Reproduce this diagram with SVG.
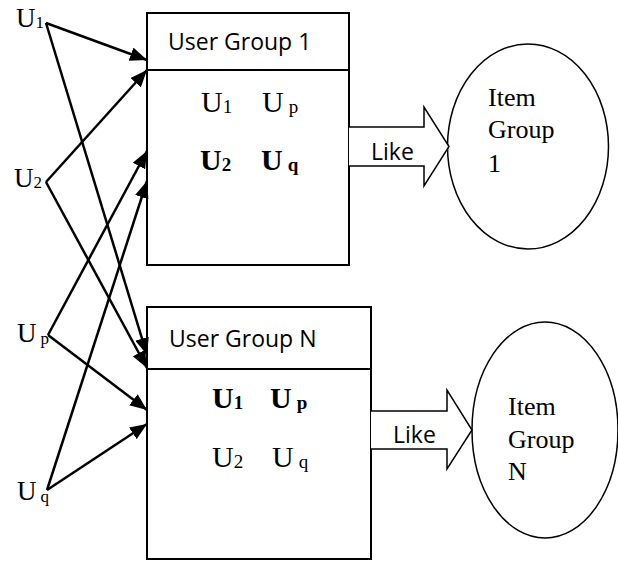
<svg xmlns="http://www.w3.org/2000/svg" width="618" height="561" viewBox="0 0 618 561">
<style>
.box{fill:#fff;stroke:#000;stroke-width:2}
.div{stroke:#000;stroke-width:2}
.sans{font-family:"Open Sans","Liberation Sans",sans-serif;fill:#000}
.serif{font-family:"Liberation Serif","Times New Roman",serif;fill:#000}
.con{stroke:#000;stroke-width:2.5;fill:none;marker-end:url(#ah)}
.blk{fill:#fff;stroke:#000;stroke-width:1.5;stroke-linejoin:miter}
.ell{fill:#fff;stroke:#000;stroke-width:1.5}
</style>
<defs>
<marker id="ah" markerUnits="userSpaceOnUse" markerWidth="18" markerHeight="14" refX="17" refY="7" orient="auto">
<path d="M0,0 L17,7 L0,14 z" fill="#000"/>
</marker>
</defs>
<rect width="618" height="561" fill="#fff"/>

<g id="user-labels" class="serif" font-size="27">
<g id="u1"><text x="16" y="27">U<tspan font-size="17" dy="1">1</tspan></text></g>
<g id="u2"><text x="14" y="187">U<tspan font-size="17" dy="1">2</tspan></text></g>
<g id="up"><text x="17" y="342">U<tspan font-size="17" dx="4" dy="2">p</tspan></text></g>
<g id="uq"><text x="17" y="500">U<tspan font-size="17" dx="4" dy="2">q</tspan></text></g>
</g>

<g id="user-group-1">
<rect class="box" x="147" y="13" width="202" height="252"/>
<line class="div" x1="147" y1="70" x2="349" y2="70"/>
<text class="sans" x="168" y="50" font-size="23">User Group 1</text>
<text class="serif" x="201" y="112" font-size="30">U<tspan font-size="19" dy="1">1</tspan></text>
<text class="serif" x="262" y="112" font-size="30">U<tspan font-size="19" dx="5" dy="1">p</tspan></text>
<text class="serif" x="200" y="170" font-size="30" font-weight="bold">U<tspan font-size="19" dy="1">2</tspan></text>
<text class="serif" x="261" y="170" font-size="30" font-weight="bold">U<tspan font-size="19" dx="5" dy="1">q</tspan></text>
</g>

<g id="user-group-n">
<rect class="box" x="147" y="307" width="224" height="252"/>
<line class="div" x1="147" y1="369" x2="371" y2="369"/>
<text class="sans" x="169" y="347" font-size="23">User Group N</text>
<text class="serif" x="212" y="408" font-size="30" font-weight="bold">U<tspan font-size="19" dy="1">1</tspan></text>
<text class="serif" x="270" y="408" font-size="30" font-weight="bold">U<tspan font-size="19" dx="5" dy="1">p</tspan></text>
<text class="serif" x="212" y="467" font-size="30">U<tspan font-size="19" dy="1">2</tspan></text>
<text class="serif" x="272" y="467" font-size="30">U<tspan font-size="19" dx="5" dy="1">q</tspan></text>
</g>

<g id="item-group-1">
<ellipse class="ell" cx="528" cy="146.5" rx="80.5" ry="102.5"/>
<text class="serif" font-size="26"><tspan x="488" y="106">Item</tspan><tspan x="488" y="138">Group</tspan><tspan x="488" y="172">1</tspan></text>
</g>

<g id="item-group-n">
<ellipse class="ell" cx="545" cy="430" rx="73" ry="108"/>
<text class="serif" font-size="26"><tspan x="508" y="415">Item</tspan><tspan x="508" y="448">Group</tspan><tspan x="508" y="480">N</tspan></text>
</g>

<g id="connectors">
<line class="con" x1="46" y1="23" x2="147" y2="60"/>
<line class="con" x1="46" y1="23" x2="147" y2="355"/>
<line class="con" x1="46" y1="182" x2="147" y2="70"/>
<line class="con" x1="46" y1="182" x2="147" y2="368"/>
<line class="con" x1="48" y1="335" x2="147" y2="151"/>
<line class="con" x1="48" y1="335" x2="147" y2="410"/>
<line class="con" x1="47" y1="490" x2="147" y2="181"/>
<line class="con" x1="47" y1="490" x2="147" y2="424"/>
<path class="blk" d="M349,127 H424 V107 L449,146.5 L424,186 V166 H349"/>
<text class="sans" x="371" y="160" font-size="23">Like</text>
<path class="blk" d="M371,411 H447 V390 L472,430 L447,469 V449 H371"/>
<text class="sans" x="393" y="443" font-size="23">Like</text>
</g>
</svg>
